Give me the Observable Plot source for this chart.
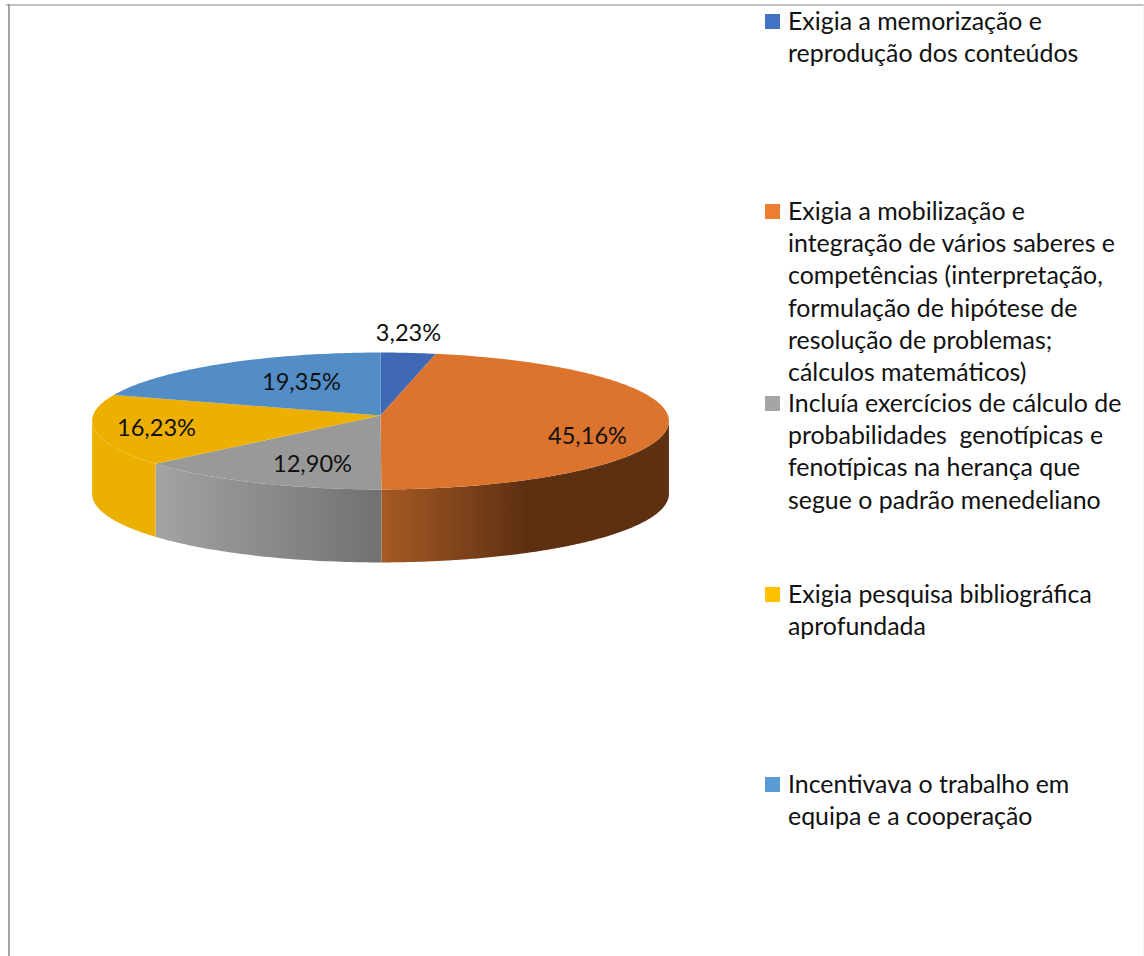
<!DOCTYPE html>
<html><head><meta charset="utf-8">
<script src="https://cdn.jsdelivr.net/npm/d3@7"></script>
<script src="https://cdn.jsdelivr.net/npm/@observablehq/plot@0.6"></script>
<style>
html,body{margin:0;padding:0;background:#fff;overflow:hidden}
#wrap{position:relative;width:1144px;height:956px;overflow:hidden}
.li{position:absolute;left:765px;font:24.9px/32.2px Lato,sans-serif;color:#111;white-space:pre}
.sw{position:absolute;left:0;top:10px;width:15px;height:15px}
.tx{position:absolute;left:23px;top:0}
</style></head><body><div id="wrap"></div>
<script>
const categories = [
 "Exigia a memorização e\nreprodução dos conteúdos",
 "Exigia a mobilização e\nintegração de vários saberes e\ncompetências (interpretação,\nformulação de hipótese de\nresolução de problemas;\ncálculos matemáticos)",
 "Incluía exercícios de cálculo de\nprobabilidades  genotípicas e\nfenotípicas na herança que\nsegue o padrão menedeliano",
 "Exigia pesquisa bibliográfica\naprofundada",
 "Incentivava o trabalho em\nequipa e a cooperação"];
const values = [3.23, 45.16, 12.90, 16.23, 19.35];
const labels = ["3,23%","45,16%","12,90%","16,23%","19,35%"];
const legendColors = ["#4472c4","#ed7d31","#a5a5a5","#ffc000","#5b9bd5"];
const topColors = ["#3f69b5","#dc742e","#999999","#edb000","#538dc6"];
const sideFills = ["#2c4a80","url(#sideOrange)","url(#sideGray)","#ecb100","#3a6a98"];
const legendTops = [4,194,386,577,767];
const labelOffsetX = [27,206,-69,-225,-80];
const labelOffsetY = [82,-21,-49,-13,33];

// pie geometry (perspective projection of a circle)
const cx=380, cy=415, a=287.5, b=68, k=0.08, depth=73;
const total=d3.sum(values);
const proj=t=>{const d=1+k*Math.cos(t);return [cx+a*Math.sin(t)/d, cy-b*Math.cos(t)/d];};
const cum=d3.cumsum(values).map(v=>v/total*2*Math.PI);
const topPts=[], sidePts=[], labelPts=[];
const rimStart=Math.acos(-k), rimEnd=2*Math.PI-rimStart; // silhouette of the projected ellipse
values.forEach((v,i)=>{
  const t0=i?cum[i-1]:0,t1=cum[i],n=Math.max(8,Math.ceil((t1-t0)*60));
  topPts.push({i,x:cx,y:cy});
  for(let j=0;j<=n;j++){const [x,y]=proj(t0+(t1-t0)*j/n);topPts.push({i,x,y});}
  // only the front of the rim is visible
  const lo=Math.max(t0,rimStart),hi=Math.min(t1,rimEnd);
  if(hi>lo){
    const rim=d3.range(n+1).map(j=>proj(lo+(hi-lo)*j/n));
    rim.forEach(([x,y])=>sidePts.push({i,x,y}));
    rim.slice().reverse().forEach(([x,y])=>sidePts.push({i,x,y:y+depth}));
  }
  labelPts.push({x:cx+1+labelOffsetX[i],y:cy-labelOffsetY[i],t:labels[i]});
});
const defs=()=>{const s=d3.create("svg:defs");
  const g=(id,st)=>{const l=s.append("linearGradient").attr("id",id);
    st.forEach(([o,c])=>l.append("stop").attr("offset",o).attr("stop-color",c));};
  g("sideOrange",[[0,"#a75a24"],[0.5,"#5e3012"],[1,"#5e3012"]]);
  g("sideGray",[[0,"#a3a3a3"],[1,"#717171"]]);
  return s.node();};
const chart=Plot.plot({width:1144,height:956,margin:0,
  x:{domain:[0,1144],range:[0,1144],axis:null},
  y:{domain:[0,956],range:[0,956],axis:null},
  style:{background:"transparent"},
  marks:[defs,
   Plot.ruleY([4.5],{x1:6,x2:1144,stroke:"#868686",strokeWidth:1}),
   Plot.ruleX([8.5],{y1:4,y2:956,stroke:"#868686",strokeWidth:1.5}),
   Plot.ruleX([1143.5],{y1:4,y2:956,stroke:"#eeeeee",strokeWidth:1}),
   ...values.map((_,i)=>Plot.line(sidePts.filter(d=>d.i===i),{x:"x",y:"y",fill:sideFills[i],stroke:null})),
   ...values.map((_,i)=>Plot.line(topPts.filter(d=>d.i===i),{x:"x",y:"y",fill:topColors[i],stroke:null})),
   Plot.text(labelPts,{x:"x",y:"y",text:"t",fontFamily:"Lato, sans-serif",fontSize:23.6,fill:"#111"})
  ]});
const wrap=document.getElementById("wrap");
wrap.appendChild(chart);
categories.forEach((c,i)=>{
  const d=document.createElement("div");d.className="li";d.style.top=legendTops[i]+"px";
  const s=document.createElement("div");s.className="sw";s.style.background=legendColors[i];
  const t=document.createElement("div");t.className="tx";t.textContent=c;
  d.append(s,t);wrap.appendChild(d);
});
</script></body></html>
